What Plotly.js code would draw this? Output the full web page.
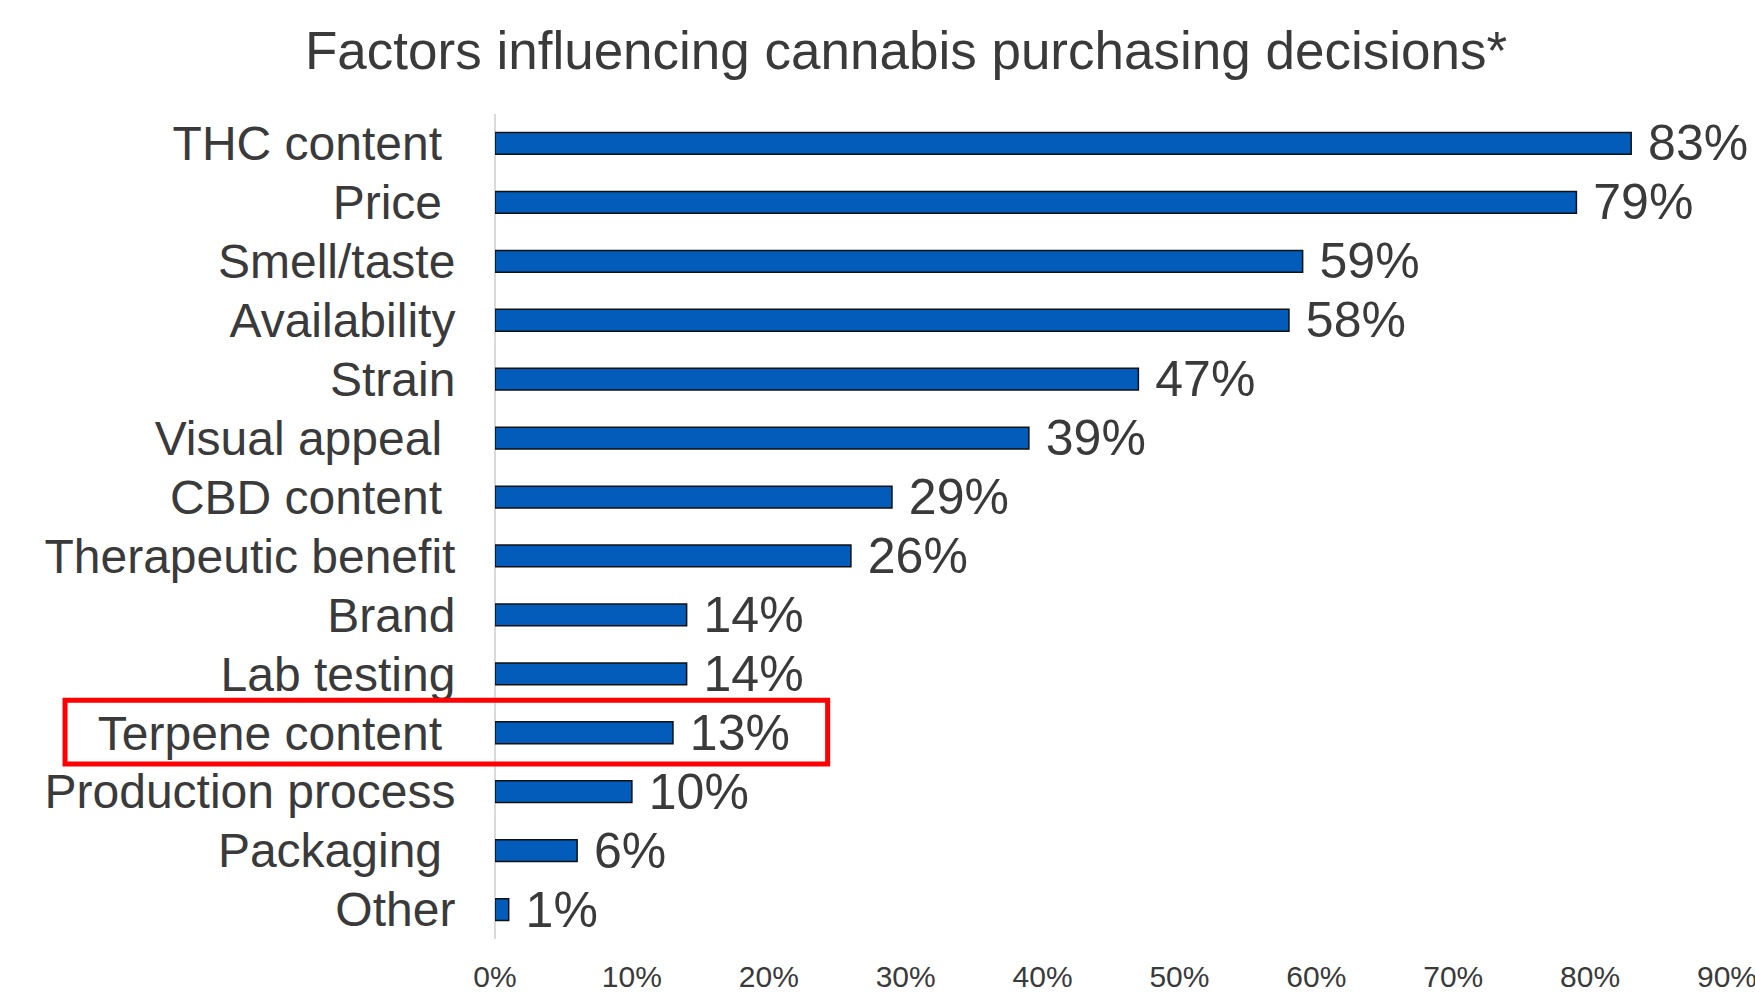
<!DOCTYPE html>
<html>
<head>
<meta charset="utf-8">
<script src="https://cdn.plot.ly/plotly-3.0.1.min.js"></script>
<style>html,body{margin:0;padding:0;background:#fff;}#chart{width:1755px;height:996px;}</style>
</head>
<body>
<div id="chart"></div>
<script>
const categories = ["THC content\u00a0", "Price\u00a0", "Smell/taste", "Availability", "Strain", "Visual appeal\u00a0", "CBD content\u00a0", "Therapeutic benefit", "Brand", "Lab testing", "Terpene content\u00a0", "Production process", "Packaging\u00a0", "Other"];
const values = [83, 79, 59, 58, 47, 39, 29, 26, 14, 14, 13, 10, 6, 1];
const xTicks = [0, 10, 20, 30, 40, 50, 60, 70, 80, 90];
const highlighted = "Terpene content\u00a0";

const n = categories.length;
const hi = categories.indexOf(highlighted);
const FONT = "Liberation Sans, Arial, sans-serif";

const trace = {
  type: "bar",
  orientation: "h",
  x: values,
  y: categories,
  marker: {color: "#035BBA", line: {color: "#111111", width: 1.5}},
  text: values.map(v => "\u00a0" + v + "%"),
  textposition: "outside",
  constraintext: "none",
  cliponaxis: false,
  textfont: {family: FONT, size: 50, color: "#3a3a3a"},
  hoverinfo: "none"
};

const yc = 1 - (hi + 0.5) / n;
const layout = {
  width: 1755, height: 996,
  margin: {l: 495, r: 28, t: 113.5, b: 56.5},
  paper_bgcolor: "#fff", plot_bgcolor: "#fff",
  showlegend: false,
  bargap: 0.63,
  title: {text: "Factors influencing cannabis purchasing decisions*", font: {family: FONT, size: 53, color: "#3a3a3a"}, x: 906/1755, xanchor: "center", xref: "container", y: 1 - 50/996, yanchor: "middle", yref: "container"},
  xaxis: {range: [0, 90], tickmode: "array", tickvals: xTicks, ticktext: xTicks.map(t => t + "%"), ticklabeloverflow: "allow", showgrid: false, zeroline: true, zerolinecolor: "#d9d9d9", zerolinewidth: 1.5, showline: false, ticks: "outside", ticklen: 11, tickcolor: "rgba(0,0,0,0)", tickfont: {family: FONT, size: 30, color: "#3a3a3a"}, fixedrange: true},
  yaxis: {type: "category", autorange: "reversed", tickmode: "array", tickvals: categories, ticktext: categories, showgrid: false, zeroline: false, showline: false, ticks: "outside", ticklen: 29, tickcolor: "rgba(0,0,0,0)", tickfont: {family: FONT, size: 48, color: "#3a3a3a"}, fixedrange: true},
  shapes: [{type: "rect", xref: "paper", yref: "paper", x0: -0.349, x1: 0.270, y0: yc - 0.53 / n, y1: yc + 0.55 / n, line: {color: "#ff0000", width: 5}, fillcolor: "rgba(0,0,0,0)", layer: "above"}]
};

Plotly.newPlot("chart", [trace], layout, {displayModeBar: false, staticPlot: true});
</script>
</body>
</html>
